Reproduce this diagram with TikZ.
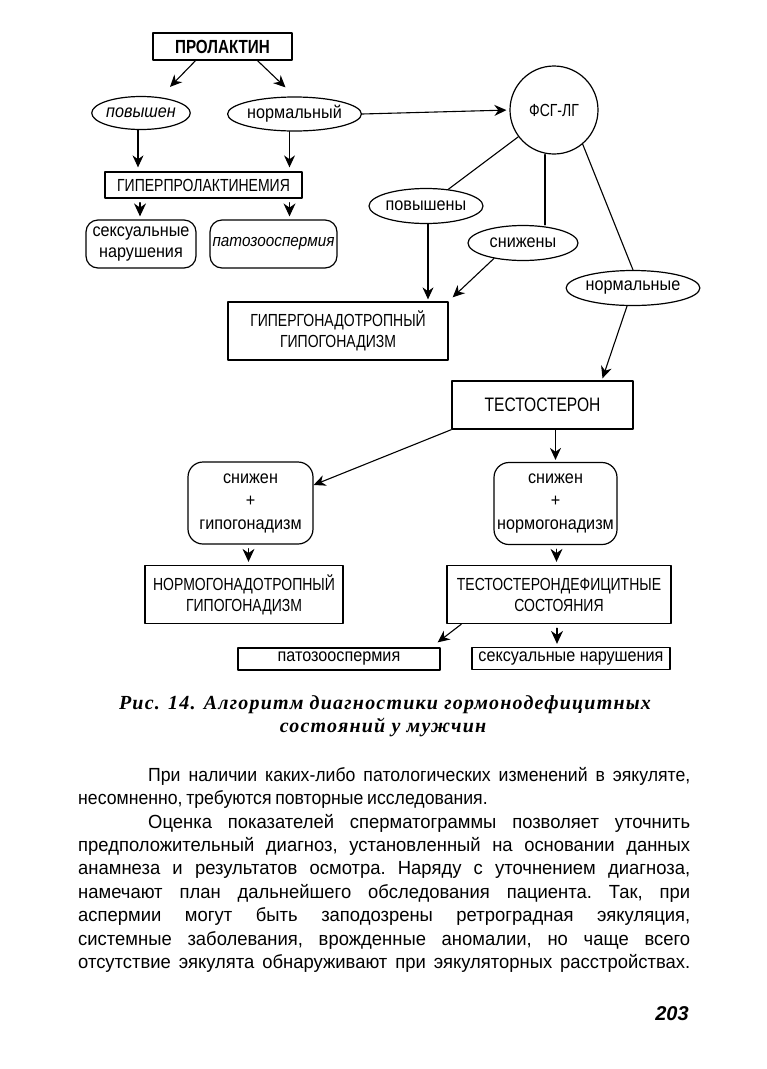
\documentclass[tikz,border=0pt]{standalone}
\usepackage{fontspec}
\setmainfont{Liberation Sans}
\newfontfamily\narrowfont[FakeStretch=0.8]{Liberation Sans}
\newfontfamily\lowfont[FakeStretch=0.9]{Liberation Sans}
\newfontfamily\bodyfont[FakeStretch=0.93, WordSpace=0.75]{Liberation Sans}
\newfontfamily\bodywide[FakeStretch=0.97, WordSpace=0.75]{Liberation Sans}
\newfontfamily\capfont[LetterSpace=6]{Liberation Serif}
\usetikzlibrary{arrows.meta,shapes.geometric,calc}

\tikzset{
  lbl/.style={inner sep=0pt, align=center, font=\lowfont\fontsize{18}{21}\selectfont},
  box/.style={lbl, draw, line width=1.3pt},
  capbox/.style={box, font=\narrowfont\fontsize{17.5}{21}\selectfont},
  oval/.style={lbl, draw, ellipse, line width=1.2pt},
  rbox/.style={lbl, draw, rounded corners=15pt, line width=1.2pt},
  conn/.style={line width=1.1pt},
  arr/.style={conn, ->},
  headonly/.style={conn, -{Stealth[length=13pt,width=12pt]}, shorten <=4pt, shorten >=3pt},
}

\begin{document}
\begin{tikzpicture}[x=1pt, y=1pt, line cap=round, line join=round, >={Stealth[length=12pt,width=11pt]}]
\useasboundingbox (0,0) rectangle (767,-1069);

% upper part: prolactin
\node[capbox, minimum width=139, minimum height=27, font=\narrowfont\fontsize{19}{22}\selectfont\bfseries] (prl) at (222.5,-46.5) {ПРОЛАКТИН};
\node[oval, minimum width=98, minimum height=33] (pov) at (141,-113) {\itshape повышен};
\node[oval, minimum width=121, minimum height=34] (norm) at (294.5,-114) {нормальный};
\node[capbox, minimum width=197, minimum height=26] (hyper) at (203.5,-185) {ГИПЕРПРОЛАКТИНЕМИЯ};
\node[rbox, minimum width=110, minimum height=48, rounded corners=12pt] (sex1) at (141,-244) {сексуальные\\нарушения};
\node[rbox, minimum width=127, minimum height=48, rounded corners=12pt, font=\lowfont\fontsize{17}{20}\selectfont\itshape] (pat1) at (273.5,-244) {патозооспермия};

% FSG-LG
\node[lbl, draw, circle, line width=1.2pt, minimum size=88, font=\narrowfont\fontsize{17.5}{21}\selectfont] (fsg) at (554,-110) {ФСГ-ЛГ};
\node[oval, minimum width=108, minimum height=35] (povs) at (426,-206) {повышены};
\node[oval, minimum width=110, minimum height=35] (snizh) at (523,-243) {снижены};
\node[oval, minimum width=110, minimum height=35] (normy) at (633,-288) {нормальные};
\node[capbox, minimum width=220, minimum height=58] (hyperg) at (338,-331) {ГИПЕРГОНАДОТРОПНЫЙ\\ГИПОГОНАДИЗМ};

% testosterone
\node[capbox, minimum width=181, minimum height=48, font=\narrowfont\fontsize{19.5}{22}\selectfont] (test) at (542.5,-405) {ТЕСТОСТЕРОН};
\node[rbox, minimum width=125, minimum height=82] (hypo) at (250.5,-503) {снижен\\[2pt]+\\[2pt]гипогонадизм};
\node[rbox, minimum width=123, minimum height=82] (normo) at (555.5,-503.5) {снижен\\[2pt]+\\[2pt]нормогонадизм};
\node[capbox, minimum width=198, minimum height=58] (ngt) at (244,-594.5) {НОРМОГОНАДОТРОПНЫЙ\\ГИПОГОНАДИЗМ};
\node[capbox, minimum width=224, minimum height=58] (tdef) at (559,-594.5) {ТЕСТОСТЕРОНДЕФИЦИТНЫЕ\\СОСТОЯНИЯ};
\node[box, minimum width=202, minimum height=22] (pat2) at (339,-659) {патозооспермия};
\node[box, minimum width=198, minimum height=22] (sex2) at (571,-658.5) {сексуальные нарушения};

% connectors
\draw[arr] ([xshift=-27pt]prl.south) -- ([xshift=29pt,yshift=9pt]pov.north);
\draw[arr] ([xshift=35pt]prl.south) -- ([xshift=-9pt,yshift=9pt]norm.north);
\draw[arr, shorten >=3pt] (norm.east) -- (fsg.west);
\draw[arr, shorten >=4pt] ([xshift=-3pt]pov.south) -- ([xshift=-3pt]pov.south |- hyper.north);
\draw[arr, shorten >=4pt] ([xshift=-5pt]norm.south) -- ([xshift=-5pt]norm.south |- hyper.north);
\draw[headonly] ([xshift=-1pt]hyper.south -| sex1.north) -- ([xshift=-1pt]sex1.north);
\draw[headonly] ([xshift=16pt]hyper.south -| pat1.north) -- ([xshift=16pt]pat1.north);

\draw[conn] (fsg) -- (povs);
\draw[conn] ([xshift=-9pt]fsg.south) -- ([xshift=-9pt]fsg.south |- snizh.north);
\draw[conn] (fsg.-50) -- (normy.north);
\draw[arr, shorten >=2pt] ([xshift=2pt]povs.south) -- ([xshift=2pt]povs.south |- hyperg.north);
\draw[arr] (snizh.208) -- ([shift={(4pt,4pt)}]hyperg.north east);
\draw[arr] ([xshift=-6pt]normy.south) -- ([xshift=60pt,yshift=2pt]test.north);

\draw[arr] (test.south west) -- ([yshift=18pt]hypo.east);
\draw[arr, shorten >=2pt] (test.south -| normo.north) -- (normo.north);
\draw[headonly] ([xshift=-2pt]hypo.south) -- ([xshift=-2pt]hypo.south |- ngt.north);
\draw[headonly] ([xshift=1pt]normo.south) -- ([xshift=1pt]normo.south |- tdef.north);
\draw[arr] ([xshift=15pt]tdef.south west) -- ([shift={(-3pt,5pt)}]pat2.north east);
\draw[headonly] ([xshift=-2pt]tdef.south) -- ([xshift=-2pt]tdef.south |- sex2.north);

% caption
\node[inner sep=0pt, font=\capfont\fontsize{20}{24}\selectfont\bfseries\itshape] (cap1) at (385,-705) {Рис. 14. Алгоритм диагностики гормонодефицитных};
\node[inner sep=0pt, font=\capfont\fontsize{20}{24}\selectfont\bfseries\itshape] (cap2) at (383,-727) {состояний у мужчин};

% text
\node[anchor=north west, inner sep=0pt] (body) at (78,-767) {\begin{minipage}{612pt}
\bodyfont\fontsize{19}{23.4}\selectfont\frenchspacing\setlength{\parindent}{70pt}\hyphenpenalty=10000\tolerance=9999
При наличии каких-либо патологических изменений в эякуляте,\linebreak
несомненно, требуются повторные исследования.\par
\bodywide\fontsize{19}{23.4}\selectfont
Оценка показателей сперматограммы позволяет уточнить\linebreak
предположительный диагноз, установленный на основании данных\linebreak
анамнеза и результатов осмотра. Наряду с уточнением диагноза,\linebreak
намечают план дальнейшего обследования пациента. Так, при\linebreak
аспермии могут быть заподозрены ретроградная эякуляция,\linebreak
системные заболевания, врожденные аномалии, но чаще всего\linebreak
отсутствие эякулята обнаруживают при эякуляторных расстройствах.{\parfillskip=0pt\par}
\end{minipage}};

\node[inner sep=0pt, font=\fontsize{20}{24}\selectfont\bfseries\itshape] (pnum) at (672,-1014) {203};
\end{tikzpicture}
\end{document}
